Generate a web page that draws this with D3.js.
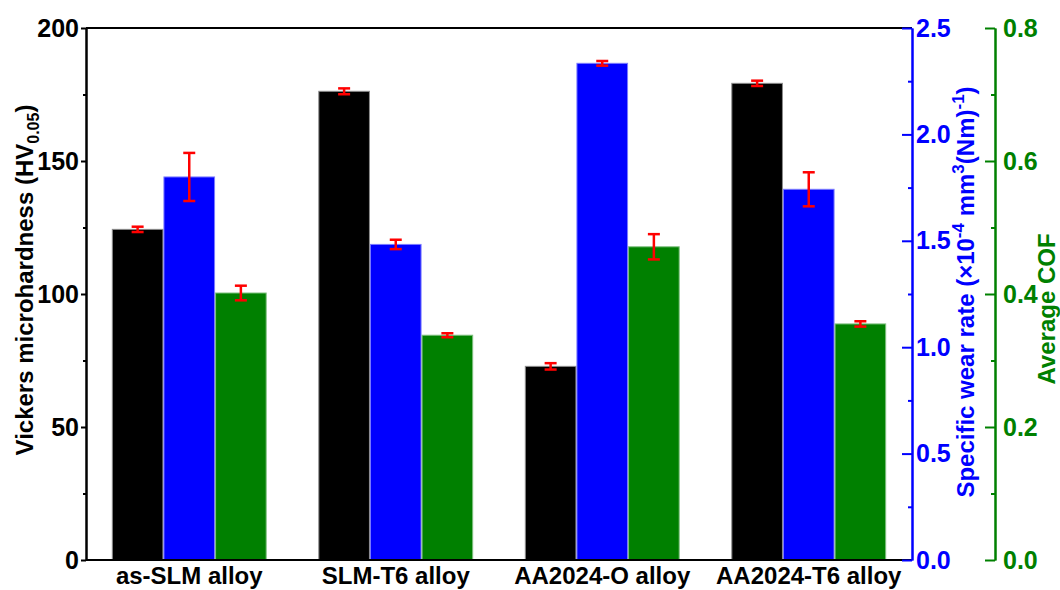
<!DOCTYPE html>
<html>
<head>
<meta charset="utf-8">
<script src="https://cdn.jsdelivr.net/npm/d3@7"></script>
<style>
    body { margin: 0; background: #fff; }
    svg { display: block; font-family: "Liberation Sans", Arial, sans-serif; font-weight: bold; }
</style>
</head>
<body>
<svg id="chart" width="1060" height="590"></svg>
<script>
const categories = ["as-SLM alloy", "SLM-T6 alloy", "AA2024-O alloy", "AA2024-T6 alloy"];

const hardness = [124.3, 176.2, 72.8, 179.2];
const hardnessErr = [1.0, 1.1, 1.2, 1.0];

const wearRate = [1.80, 1.483, 2.334, 1.742];
const wearErr = [0.113, 0.022, 0.011, 0.08];

const cof = [0.4015, 0.338, 0.471, 0.355];
const cofErr = [0.011, 0.003, 0.019, 0.004];

const hardTicks = [0, 50, 100, 150, 200];
const wearTicks = [0, 0.5, 1.0, 1.5, 2.0, 2.5];
const cofTicks = [0, 0.2, 0.4, 0.6, 0.8];

const plotL = 86, plotR = 912, plotT = 28, plotB = 560, cofX = 995;

const svg = d3.select("#chart");

const x = d3.scaleBand().domain(categories).range([plotL, plotR])
    .paddingInner(0.25).paddingOuter(0.125);
const series = ["hard", "wear", "cof"];
const xs = d3.scaleBand().domain(series).range([0, x.bandwidth()]);

const yHard = d3.scaleLinear().domain([0, 200]).range([plotB, plotT]);
const yWear = d3.scaleLinear().domain([0, 2.5]).range([plotB, plotT]);
const yCof = d3.scaleLinear().domain([0, 0.8]).range([plotB, plotT]);

const sets = [
    { key: "hard", vals: hardness, errs: hardnessErr, y: yHard, fill: "#000000", edge: "#8c8c8c" },
    { key: "wear", vals: wearRate, errs: wearErr, y: yWear, fill: "#0000ff", edge: "#7a7aff" },
    { key: "cof", vals: cof, errs: cofErr, y: yCof, fill: "#008000", edge: "#7fbf7f" }
];

// bars
sets.forEach(s => {
    svg.append("g")
        .selectAll("rect")
        .data(categories)
        .enter().append("rect")
        .attr("x", d => x(d) + xs(s.key) + 0.5)
        .attr("y", (d, i) => s.y(s.vals[i]))
        .attr("width", xs.bandwidth() - 1)
        .attr("height", (d, i) => plotB - s.y(s.vals[i]))
        .attr("fill", s.fill)
        .attr("stroke", s.edge)
        .attr("stroke-width", 1);
});

// error bars
sets.forEach(s => {
    const g = svg.append("g").attr("stroke", "#ff0000").attr("stroke-width", 2.5);
    categories.forEach((c, i) => {
        const cx = x(c) + xs(s.key) + xs.bandwidth() / 2;
        const hi = s.y(s.vals[i] + s.errs[i]);
        const lo = s.y(s.vals[i] - s.errs[i]);
        g.append("line").attr("x1", cx).attr("x2", cx).attr("y1", hi).attr("y2", lo);
        g.append("line").attr("x1", cx - 6).attr("x2", cx + 6).attr("y1", hi).attr("y2", hi);
        g.append("line").attr("x1", cx - 6).attr("x2", cx + 6).attr("y1", lo).attr("y2", lo);
    });
});

function styleAxis(g, color, size) {
    g.selectAll("path").attr("stroke", color).attr("stroke-width", 2);
    g.selectAll("line").attr("stroke", color).attr("stroke-width", 2);
    g.selectAll("text").attr("fill", color).attr("font-size", size || "24px")
        .attr("font-family", "'Liberation Sans', Arial, sans-serif").attr("font-weight", "bold");
}

// frame top / bottom
svg.append("line").attr("x1", plotL).attr("x2", plotR).attr("y1", plotT).attr("y2", plotT)
    .attr("stroke", "#000").attr("stroke-width", 2);
svg.append("line").attr("x1", plotL).attr("x2", plotR).attr("y1", plotB).attr("y2", plotB)
    .attr("stroke", "#000").attr("stroke-width", 2);

// left axis
const gL = svg.append("g").attr("transform", `translate(${plotL},0)`)
    .call(d3.axisLeft(yHard).tickValues(hardTicks).tickSize(5).tickSizeOuter(0).tickPadding(2));
styleAxis(gL, "#000", "25px");
const gLm = svg.append("g").attr("transform", `translate(${plotL},0)`)
    .call(d3.axisLeft(yHard).tickValues([25, 75, 125, 175]).tickSize(3).tickSizeOuter(0).tickFormat(""));
styleAxis(gLm, "#000");

// blue right axis
const gB = svg.append("g").attr("transform", `translate(${plotR},0)`)
    .call(d3.axisRight(yWear).tickValues(wearTicks).tickSize(-10).tickSizeOuter(0).tickPadding(4)
        .tickFormat(d3.format(".1f")));
styleAxis(gB, "#0000ff", "25px");
const gBm = svg.append("g").attr("transform", `translate(${plotR},0)`)
    .call(d3.axisRight(yWear).tickValues([0.25, 0.75, 1.25, 1.75, 2.25]).tickSize(-4).tickSizeOuter(0).tickFormat(""));
styleAxis(gBm, "#0000ff");

// green right axis
const gG = svg.append("g").attr("transform", `translate(${cofX},0)`)
    .call(d3.axisRight(yCof).tickValues(cofTicks).tickSize(-10).tickSizeOuter(0).tickPadding(8)
        .tickFormat(d3.format(".1f")));
styleAxis(gG, "#008000", "25px");
const gGm = svg.append("g").attr("transform", `translate(${cofX},0)`)
    .call(d3.axisRight(yCof).tickValues([0.1, 0.3, 0.5, 0.7]).tickSize(-4).tickSizeOuter(0).tickFormat(""));
styleAxis(gGm, "#008000");

// category labels
svg.append("g")
    .selectAll("text")
    .data(categories)
    .enter().append("text")
    .attr("x", d => x(d) + x.bandwidth() / 2)
    .attr("y", 584)
    .attr("text-anchor", "middle")
    .attr("font-size", "24px")
    .attr("fill", "#000")
    .text(d => d);

// axis titles
const tL = svg.append("text")
    .attr("transform", "translate(33,280) rotate(-90)")
    .attr("text-anchor", "middle")
    .attr("font-size", "24px")
    .attr("fill", "#000");
tL.append("tspan").text("Vickers microhardness (HV");
tL.append("tspan").attr("font-size", "16px").attr("dy", 6).text("0.05");
tL.append("tspan").attr("dy", -6).text(")");

const tB = svg.append("text")
    .attr("transform", "translate(974,292) rotate(-90)")
    .attr("text-anchor", "middle")
    .attr("font-size", "24px")
    .attr("fill", "#0000ff");
tB.append("tspan").text("Specific wear rate (\u00d710");
tB.append("tspan").attr("font-size", "17px").attr("dy", -10).text("-4");
tB.append("tspan").attr("dy", 10).text(" mm");
tB.append("tspan").attr("font-size", "17px").attr("dy", -10).text("3");
tB.append("tspan").attr("dy", 10).text("(Nm)");
tB.append("tspan").attr("font-size", "17px").attr("dy", -10).text("-1");
tB.append("tspan").attr("dy", 10).text(")");

svg.append("text")
    .attr("transform", "translate(1055,309) rotate(-90)")
    .attr("text-anchor", "middle")
    .attr("font-size", "24px")
    .attr("fill", "#008000")
    .text("Average COF");
</script>
</body>
</html>
